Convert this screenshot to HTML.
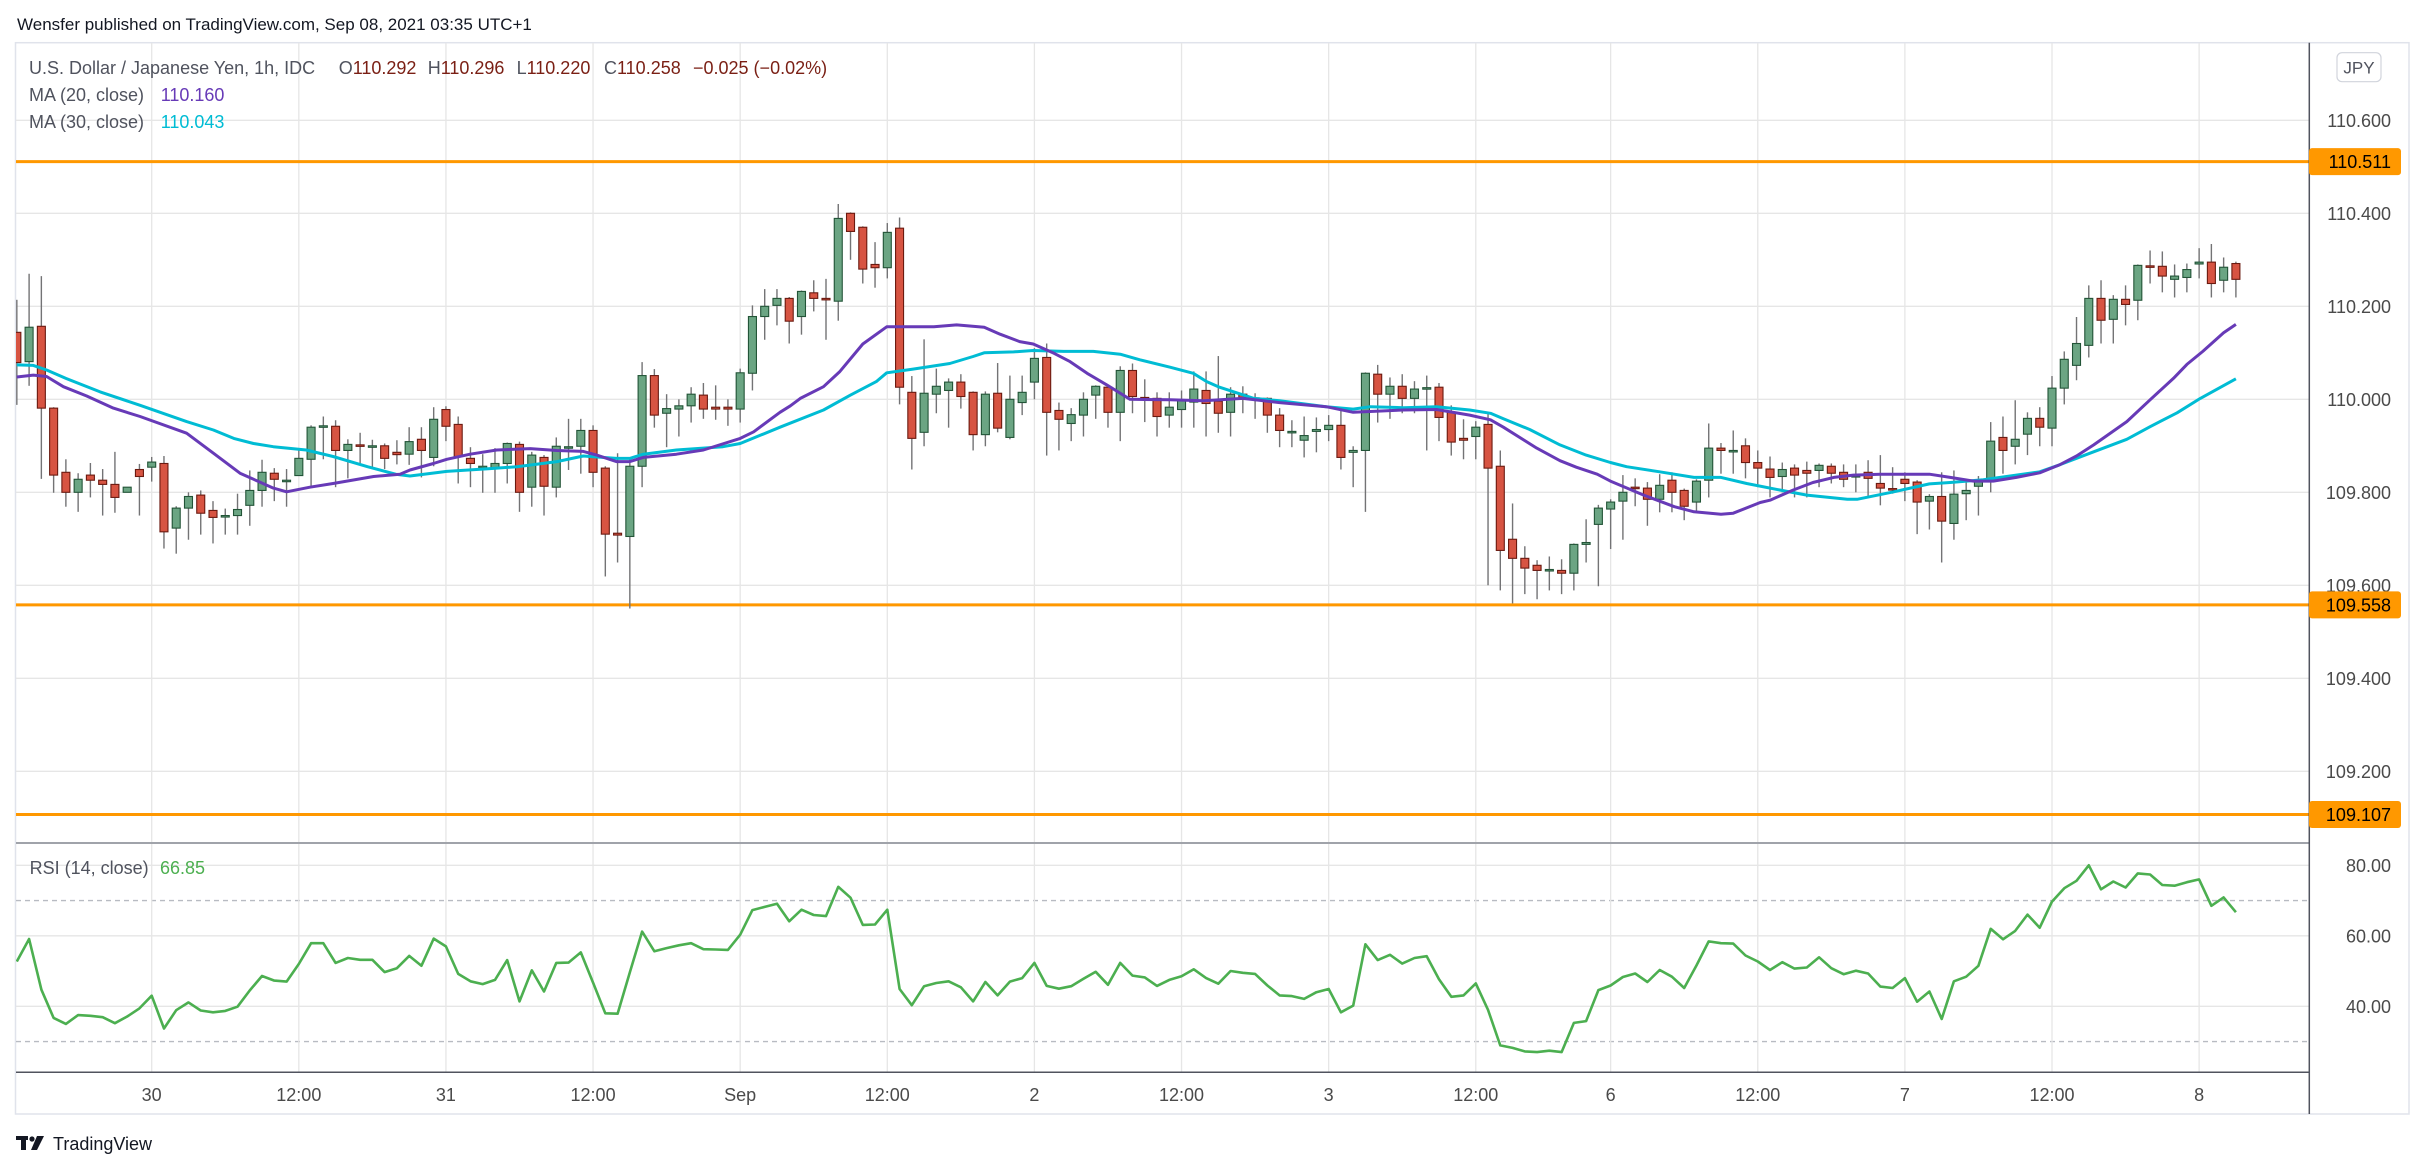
<!DOCTYPE html>
<html><head><meta charset="utf-8"><title>USDJPY 1h</title>
<style>
html,body{margin:0;padding:0;background:#fff;}
svg{display:block;font-family:"Liberation Sans",sans-serif;}
</style></head>
<body>
<svg id="chart" width="2425" height="1170" viewBox="0 0 2425 1170" xmlns="http://www.w3.org/2000/svg">
<defs>
<clipPath id="mainClip"><rect x="16" y="43" width="2293" height="799"/></clipPath>
<clipPath id="rsiClip"><rect x="16" y="844" width="2293" height="228"/></clipPath>
</defs>
<rect x="0" y="0" width="2425" height="1170" fill="#fff"/>
<text x="17" y="30" font-size="17" fill="#131722">Wensfer published on TradingView.com, Sep 08, 2021 03:35 UTC+1</text>
<rect x="15.5" y="42.7" width="2393.5" height="1071.3" fill="none" stroke="#e0e3eb" stroke-width="1.5"/>
<g id="grid"></g>
<g id="levels"></g>
<g id="candles" clip-path="url(#mainClip)"></g>
<g id="mas" clip-path="url(#mainClip)"></g>
<g id="rsi" clip-path="url(#rsiClip)"></g>
<line x1="16" y1="843" x2="2309" y2="843" stroke="#a0a3aa" stroke-width="2"/>
<line x1="16" y1="1072.3" x2="2309" y2="1072.3" stroke="#50535e" stroke-width="1.5"/>
<line x1="2309.3" y1="42.7" x2="2309.3" y2="1114" stroke="#50535e" stroke-width="1.5"/>
<g id="axes"></g>
<g font-size="18">
<text x="29" y="74" fill="#50535e">U.S. Dollar / Japanese Yen, 1h, IDC</text>
<text x="338.7" y="74" fill="#50535e">O<tspan fill="#7a1f14">110.292</tspan></text>
<text x="427.7" y="74" fill="#50535e">H<tspan fill="#7a1f14">110.296</tspan></text>
<text x="516.6" y="74" fill="#50535e">L<tspan fill="#7a1f14">110.220</tspan></text>
<text x="604" y="74" fill="#50535e">C<tspan fill="#7a1f14">110.258</tspan></text>
<text x="693" y="74" fill="#7a1f14">−0.025 (−0.02%)</text>
<text x="29" y="101" fill="#50535e">MA (20, close)</text>
<text x="160.7" y="101" fill="#673ab7">110.160</text>
<text x="29" y="128" fill="#50535e">MA (30, close)</text>
<text x="160.7" y="128" fill="#00bcd4">110.043</text>
<text x="29.6" y="874" fill="#50535e">RSI (14, close)</text>
<text x="160" y="874" fill="#4caf50">66.85</text>
</g>
<g>
<rect x="2337" y="52.7" width="44" height="29" rx="5" fill="#fff" stroke="#d1d4dc" stroke-width="1.2"/>
<text x="2359" y="73.5" font-size="17" fill="#50535e" text-anchor="middle">JPY</text>
</g>
<g>
<rect x="16" y="1136" width="12" height="4" fill="#131722"/>
<rect x="21" y="1136" width="5" height="14" fill="#131722"/>
<circle cx="32" cy="1139" r="2.6" fill="#131722"/>
<polygon points="37,1136 44,1136 37,1150 31,1150" fill="#131722"/>
<text x="53" y="1150" font-size="18" fill="#131722">TradingView</text>
</g>
</svg>
<script>
const firstIndex = -11;
const opens = [110.144,110.081,110.157,109.981,109.843,109.800,109.837,109.826,109.817,109.800,109.849,
109.854,109.862,109.723,109.766,109.794,109.761,109.750,109.750,109.772,109.804,
109.841,109.826,109.836,109.871,109.942,109.942,109.890,109.902,109.900,109.900,
109.886,109.882,109.914,109.875,109.978,109.946,109.873,109.856,109.851,109.862,
109.903,109.811,109.875,109.811,109.897,109.899,109.933,109.852,109.712,109.705,
109.856,110.051,109.970,109.979,109.986,110.009,109.983,109.983,109.979,110.056,
110.178,110.202,110.217,110.178,110.229,110.217,110.211,110.400,110.370,110.290,
110.283,110.368,110.015,109.929,110.011,110.019,110.037,110.015,109.924,110.013,
109.918,109.993,110.037,110.090,109.976,109.948,109.966,110.009,110.026,109.972,
110.062,110.004,110.002,109.966,109.978,109.994,110.019,109.996,109.972,110.011,
110.003,110.002,109.966,109.931,109.912,109.931,109.935,109.944,109.886,109.890,
110.054,110.011,110.028,110.002,110.024,110.026,109.972,109.916,109.920,109.946,
109.856,109.699,109.658,109.643,109.633,109.632,109.626,109.688,109.731,109.764,
109.781,109.811,109.809,109.785,109.826,109.804,109.779,109.826,109.895,109.889,
109.900,109.864,109.850,109.834,109.852,109.847,109.847,109.856,109.843,109.835,
109.843,109.819,109.808,109.828,109.822,109.781,109.791,109.733,109.797,109.813,
109.823,109.918,109.899,109.925,109.959,109.938,110.024,110.073,110.116,110.217,
110.172,110.215,110.213,110.287,110.286,110.258,110.262,110.291,110.295,110.256,110.292];
const highs = [110.214,110.270,110.265,109.983,109.871,109.841,109.863,109.850,109.887,109.811,109.861,
109.876,109.878,109.770,109.800,109.804,109.781,109.765,109.797,109.847,109.870,
109.852,109.850,109.892,109.944,109.963,109.955,109.914,109.928,109.913,109.905,
109.912,109.940,109.940,109.983,109.985,109.963,109.897,109.882,109.895,109.907,
109.909,109.887,109.880,109.918,109.958,109.958,109.944,109.856,109.884,109.871,
110.080,110.065,110.011,110.000,110.026,110.035,110.030,110.000,110.066,110.202,
110.237,110.237,110.220,110.234,110.256,110.259,110.420,110.402,110.372,110.338,
110.379,110.391,110.050,110.129,110.066,110.045,110.054,110.017,110.017,110.078,
110.051,110.051,110.110,110.120,109.993,109.981,110.015,110.030,110.028,110.071,
110.077,110.043,110.015,110.015,110.019,110.060,110.060,110.093,110.026,110.028,
110.013,110.004,109.981,109.955,109.963,109.961,109.966,109.978,109.899,110.058,
110.074,110.047,110.054,110.039,110.051,110.035,109.987,109.957,109.953,109.972,
109.890,109.776,109.684,109.654,109.662,109.656,109.690,109.742,109.773,109.785,
109.837,109.830,109.822,109.839,109.843,109.808,109.828,109.948,109.906,109.933,
109.916,109.890,109.877,109.864,109.860,109.866,109.862,109.862,109.860,109.860,
109.869,109.880,109.854,109.843,109.826,109.796,109.843,109.847,109.826,109.835,
109.951,109.963,109.998,109.972,109.983,110.050,110.103,110.177,110.245,110.256,
110.224,110.245,110.290,110.320,110.318,110.290,110.292,110.325,110.334,110.305,110.296];
const lows = [109.988,110.029,109.829,109.799,109.769,109.758,109.789,109.750,109.756,109.800,109.750,
109.823,109.679,109.668,109.698,109.709,109.690,109.709,109.709,109.728,109.769,
109.781,109.769,109.836,109.812,109.871,109.811,109.830,109.860,109.850,109.850,
109.860,109.859,109.832,109.856,109.910,109.819,109.811,109.799,109.799,109.819,
109.758,109.769,109.750,109.789,109.848,109.840,109.811,109.619,109.649,109.550,
109.811,109.939,109.897,109.920,109.950,109.958,109.956,109.943,109.950,110.019,
110.128,110.159,110.120,110.139,110.189,110.128,110.169,110.300,110.249,110.240,
110.260,109.989,109.849,109.899,109.970,109.939,109.980,109.890,109.899,109.929,
109.914,109.966,110.000,109.879,109.890,109.910,109.920,109.958,109.939,109.910,
109.970,109.951,109.920,109.939,109.939,109.939,109.920,109.928,109.920,109.970,
109.958,109.928,109.897,109.897,109.875,109.886,109.910,109.849,109.811,109.758,
109.950,109.958,109.970,109.970,109.890,109.910,109.879,109.871,109.871,109.600,
109.589,109.561,109.581,109.570,109.589,109.581,109.589,109.649,109.598,109.678,
109.698,109.770,109.728,109.757,109.757,109.740,109.757,109.789,109.840,109.840,
109.830,109.811,109.789,109.800,109.789,109.789,109.811,109.819,109.811,109.800,
109.789,109.772,109.797,109.781,109.710,109.720,109.649,109.698,109.740,109.750,
109.800,109.840,109.860,109.880,109.899,109.899,109.989,110.041,110.090,110.120,
110.120,110.159,110.170,110.249,110.230,110.219,110.230,110.260,110.219,110.230,110.219];
const closes = [110.079,110.155,109.981,109.837,109.800,109.828,109.826,109.817,109.789,109.811,109.834,
109.865,109.715,109.766,109.791,109.755,109.746,109.750,109.763,109.804,109.843,
109.828,109.826,109.873,109.940,109.943,109.890,109.903,109.899,109.900,109.873,
109.881,109.909,109.890,109.957,109.942,109.877,109.862,109.856,109.862,109.905,
109.800,109.880,109.813,109.899,109.898,109.933,109.843,109.710,109.708,109.856,
110.051,109.966,109.980,109.986,110.011,109.979,109.979,109.979,110.057,110.178,
110.200,110.217,110.168,110.232,110.217,110.216,110.389,110.361,110.280,110.283,
110.359,110.026,109.916,110.013,110.028,110.037,110.006,109.924,110.011,109.938,
110.000,110.015,110.088,109.972,109.957,109.967,110.000,110.028,109.972,110.062,
110.006,110.000,109.963,109.983,109.998,110.022,109.991,109.970,110.011,110.004,
110.002,109.966,109.933,109.931,109.922,109.935,109.944,109.875,109.890,110.056,
110.011,110.028,110.002,110.022,110.025,109.961,109.908,109.912,109.940,109.852,
109.675,109.658,109.637,109.632,109.634,109.626,109.688,109.692,109.766,109.779,
109.800,109.809,109.785,109.815,109.800,109.770,109.824,109.895,109.890,109.890,
109.864,109.852,109.832,109.849,109.837,109.841,109.858,109.841,109.828,109.836,
109.830,109.809,109.807,109.819,109.779,109.791,109.738,109.796,109.804,109.826,
109.910,109.890,109.914,109.959,109.940,110.024,110.086,110.120,110.217,110.170,
110.215,110.204,110.288,110.285,110.265,110.265,110.279,110.295,110.249,110.284,110.258];
const rsiValues = [52.7,59.1,44.7,36.7,35.0,37.5,37.3,36.9,35.2,37.1,39.4,
43.0,33.7,38.9,41.1,38.8,38.3,38.7,39.9,44.5,48.6,
47.3,47.0,52.0,57.9,57.9,52.3,53.7,53.2,53.2,49.7,
50.8,54.3,51.5,59.2,57.0,49.2,47.1,46.3,47.5,53.1,
41.4,50.2,44.2,52.3,52.4,55.3,46.7,38.0,37.9,49.6,
61.2,55.6,56.5,57.3,57.9,56.2,56.1,56.0,60.3,67.3,
68.2,69.1,64.1,67.4,65.9,65.6,73.9,70.8,63.1,63.2,
67.4,44.9,40.3,45.7,46.6,47.1,45.4,41.4,46.9,43.1,
47.0,48.0,52.3,45.8,45.0,45.7,47.8,49.8,46.1,52.3,
48.7,48.2,45.8,47.5,48.5,50.5,48.0,46.4,50.0,49.5,
49.2,45.9,43.1,42.9,42.1,44.0,44.9,38.3,40.2,57.6,
53.1,54.6,52.1,53.7,54.2,47.7,42.7,43.1,46.5,39.0,
28.9,28.2,27.2,27.0,27.4,27.0,35.3,35.8,44.6,45.9,
48.3,49.3,46.9,50.3,48.4,45.2,51.6,58.4,57.9,57.8,
54.4,52.7,50.3,52.5,50.7,51.0,53.9,50.8,49.1,50.1,
49.3,45.6,45.2,48.0,41.3,44.2,36.4,47.1,48.4,51.5,
62.0,59.0,61.4,66.0,62.3,69.7,73.5,75.6,80.0,73.2,
75.4,73.7,77.7,77.4,74.4,74.2,75.2,76.0,68.5,70.9,66.7];
const ma20Idx = [-11,-9.66,-8.57,-7.2,-5.3,-3.13,-0.95,2.85,5.03,7.2,9.92,11,12.9,14.8,18.1,20.25,21.07,22.98,24.07,25.97,28.15,30.87,33.05,35.2,36.3,37.9,39,40.1,42.8,45,48,49.1,51.25,52.1,52.9,54.8,56.1,58,59.95,62.1,63.8,65.65,67.9,69.2,70.8,71.9,73.6,74.9,76.3,77.9,79.8,83.06,85.8,89,92,95.8,98,102.1,104.8,107.5,109.2,110.25,112.97,114.87,116.2,117.9,118.98,121.7,124.2,125.8,128,129,131.2,132,133.9,135.5,137.2,138.8,141,143.2,145,146.7,148.6,150.2,152.1,154,155.6,157,158.4,161.1,163,164.9,166,167.3,169,170];
const ma20Vals = [110.048,110.052,110.049,110.027,110.007,109.981,109.963,109.927,109.884,109.841,109.809,109.801,109.811,109.819,109.834,109.839,109.848,109.862,109.871,109.882,109.891,109.894,109.890,109.888,109.880,109.866,109.866,109.875,109.882,109.891,109.916,109.930,109.972,109.986,110.002,110.027,110.059,110.119,110.156,110.156,110.156,110.160,110.155,110.140,110.124,110.119,110.099,110.081,110.056,110.031,110.000,109.999,109.997,110.002,109.993,109.984,109.972,109.977,109.978,109.966,109.956,109.940,109.895,109.868,109.854,109.839,109.824,109.794,109.769,109.758,109.753,109.755,109.778,109.783,109.805,109.821,109.832,109.837,109.839,109.839,109.839,109.832,109.824,109.824,109.832,109.842,109.859,109.878,109.902,109.952,109.999,110.045,110.075,110.103,110.143,110.161];
const ma30Idx = [-11,-9.66,-8.57,-7,-4.2,-0.95,2.85,5.03,6.7,8.3,9.92,12.6,14.8,17.6,19.9,21.07,24.07,27.6,29.8,33.05,35.2,37.9,39,40.1,42.8,46.6,48,51.25,54.8,57,59.1,59.95,62.1,65.1,67,67.9,70.3,71.9,74.4,76.8,79,80.6,83.06,84.96,86.05,87.1,89.9,92,95.8,98,99.4,102.1,104.8,107.5,109.2,110.25,112.4,114.87,117,118.98,120.3,123,125.8,128,130.1,132.8,135,138.3,139.1,142.1,145,146.7,149.4,152.1,154,155.6,158.1,161.1,163,165.2,167.1,170];
const ma30Vals = [110.074,110.073,110.063,110.045,110.016,109.987,109.952,109.934,109.916,109.905,109.898,109.891,109.877,109.855,109.839,109.835,109.845,109.851,109.855,109.866,109.878,109.873,109.873,109.882,109.891,109.898,109.905,109.940,109.977,110.009,110.038,110.057,110.065,110.077,110.092,110.100,110.102,110.105,110.103,110.103,110.097,110.085,110.069,110.056,110.038,110.026,110.002,109.997,109.984,109.979,109.984,109.982,109.984,109.977,109.970,109.958,109.935,109.902,109.880,109.864,109.855,109.844,109.832,109.832,109.819,109.805,109.794,109.785,109.785,109.801,109.818,109.821,109.827,109.837,109.844,109.859,109.884,109.914,109.941,109.971,110.002,110.044];
const priceTicks = [110.6,110.4,110.2,110.0,109.8,109.6,109.4,109.2];
const priceTickLabels = ["110.600","110.400","110.200","110.000","109.800","109.600","109.400","109.200"];
const levelPrices = [110.511,109.558,109.107];
const levelLabels = ["110.511","109.558","109.107"];
const rsiTicks = [80,60,40];
const rsiTickLabels = ["80.00","60.00","40.00"];
const rsiBands = [70,30];
const timeIdx = [0,12,24,36,48,60,72,84,96,108,119,131,143,155,167];
const timeLabels = ["30","12:00","31","12:00","Sep","12:00","2","12:00","3","12:00","6","12:00","7","12:00","8"];

const NS = "http://www.w3.org/2000/svg";
function xOf(i){ return 151.7 + i*12.26; }
function yP(p){ return 213.3 + (110.4 - p)*465; }
function yR(r){ return 865.3 + (80 - r)*3.525; }
function mk(tag, attrs, parent){
  const e = document.createElementNS(NS, tag);
  for (const k in attrs) e.setAttribute(k, attrs[k]);
  parent.appendChild(e);
  return e;
}
const grid = document.getElementById('grid');
const axes = document.getElementById('axes');
const levels = document.getElementById('levels');
const candles = document.getElementById('candles');
const mas = document.getElementById('mas');
const rsiG = document.getElementById('rsi');

priceTicks.forEach((p, k) => {
  const l = mk('line', {x1:16, x2:2309, y1:yP(p), y2:yP(p), stroke:'#e6e6e6', 'stroke-width':1.3}, grid);
  
  
  const t = mk('text', {x:2391, y:yP(p)+6.5, 'font-size':18, fill:'#4a4a4a', 'text-anchor':'end'}, axes);
  t.textContent = priceTickLabels[k];
  
  
});
rsiTicks.forEach((r, k) => {
  const l = mk('line', {x1:16, x2:2309, y1:yR(r), y2:yR(r), stroke:'#e6e6e6', 'stroke-width':1.3}, grid);
  
  
  const t = mk('text', {x:2391, y:yR(r)+6.5, 'font-size':18, fill:'#4a4a4a', 'text-anchor':'end'}, axes);
  t.textContent = rsiTickLabels[k];
  
  
});
rsiBands.forEach(r => {
  const l = mk('line', {x1:16, x2:2309, y1:yR(r), y2:yR(r), stroke:'#b8bbc2', 'stroke-width':1.3, 'stroke-dasharray':'5,4'}, grid);
  
  
});
timeIdx.forEach((i, k) => {
  const l = mk('line', {x1:xOf(i), x2:xOf(i), y1:43, y2:1072, stroke:'#e6e6e6', 'stroke-width':1.3}, grid);
  
  
  const t = mk('text', {x:xOf(i), y:1101, 'font-size':18, fill:'#4a4a4a', 'text-anchor':'middle'}, axes);
  t.textContent = timeLabels[k];
  
  
});
levelPrices.forEach((p, k) => {
  const l = mk('line', {x1:16, x2:2309, y1:yP(p), y2:yP(p), stroke:'#ff9800', 'stroke-width':3}, levels);
  
  
  const r = mk('rect', {x:2309, y:yP(p)-13.5, width:92, height:27, rx:3, fill:'#ff9800'}, axes);
  
  
  const t = mk('text', {x:2391, y:yP(p)+6.5, 'font-size':18, fill:'#000', 'text-anchor':'end'}, axes);
  t.textContent = levelLabels[k];
  
  
});
for (let n = 0; n < closes.length; n++) {
  const i = firstIndex + n;
  const o = opens[n], h = highs[n], lo = lows[n], c = closes[n];
  const x = xOf(i);
  const up = c >= o;
  const w = mk('line', {x1:x, x2:x, y1:yP(h), y2:yP(lo), stroke:'#737375', 'stroke-width':1.4}, candles);
  
  
  const top = yP(Math.max(o, c));
  const hgt = Math.max(1.5, Math.abs(yP(o) - yP(c)));
  const b = mk('rect', {x:x-4, y:top, width:8, height:hgt, fill: up ? '#6ba583' : '#d75442', stroke: up ? '#225437' : '#6b1a10', 'stroke-width':1.1}, candles);
  
  
}
function polyPts(idx, vals){ return idx.map((i, k) => xOf(i).toFixed(1) + ',' + yP(vals[k]).toFixed(1)).join(' '); }
const m30 = mk('polyline', {points: polyPts(ma30Idx, ma30Vals), fill:'none', stroke:'#00bcd4', 'stroke-width':3, 'stroke-linejoin':'round'}, mas);


const m20 = mk('polyline', {points: polyPts(ma20Idx, ma20Vals), fill:'none', stroke:'#673ab7', 'stroke-width':3, 'stroke-linejoin':'round'}, mas);


const rsiPts = rsiValues.map((r, n) => xOf(firstIndex + n).toFixed(1) + ',' + yR(r).toFixed(1)).join(' ');
const rl = mk('polyline', {points: rsiPts, fill:'none', stroke:'#4caf50', 'stroke-width':2.6, 'stroke-linejoin':'round'}, rsiG);


</script>
</body></html>
